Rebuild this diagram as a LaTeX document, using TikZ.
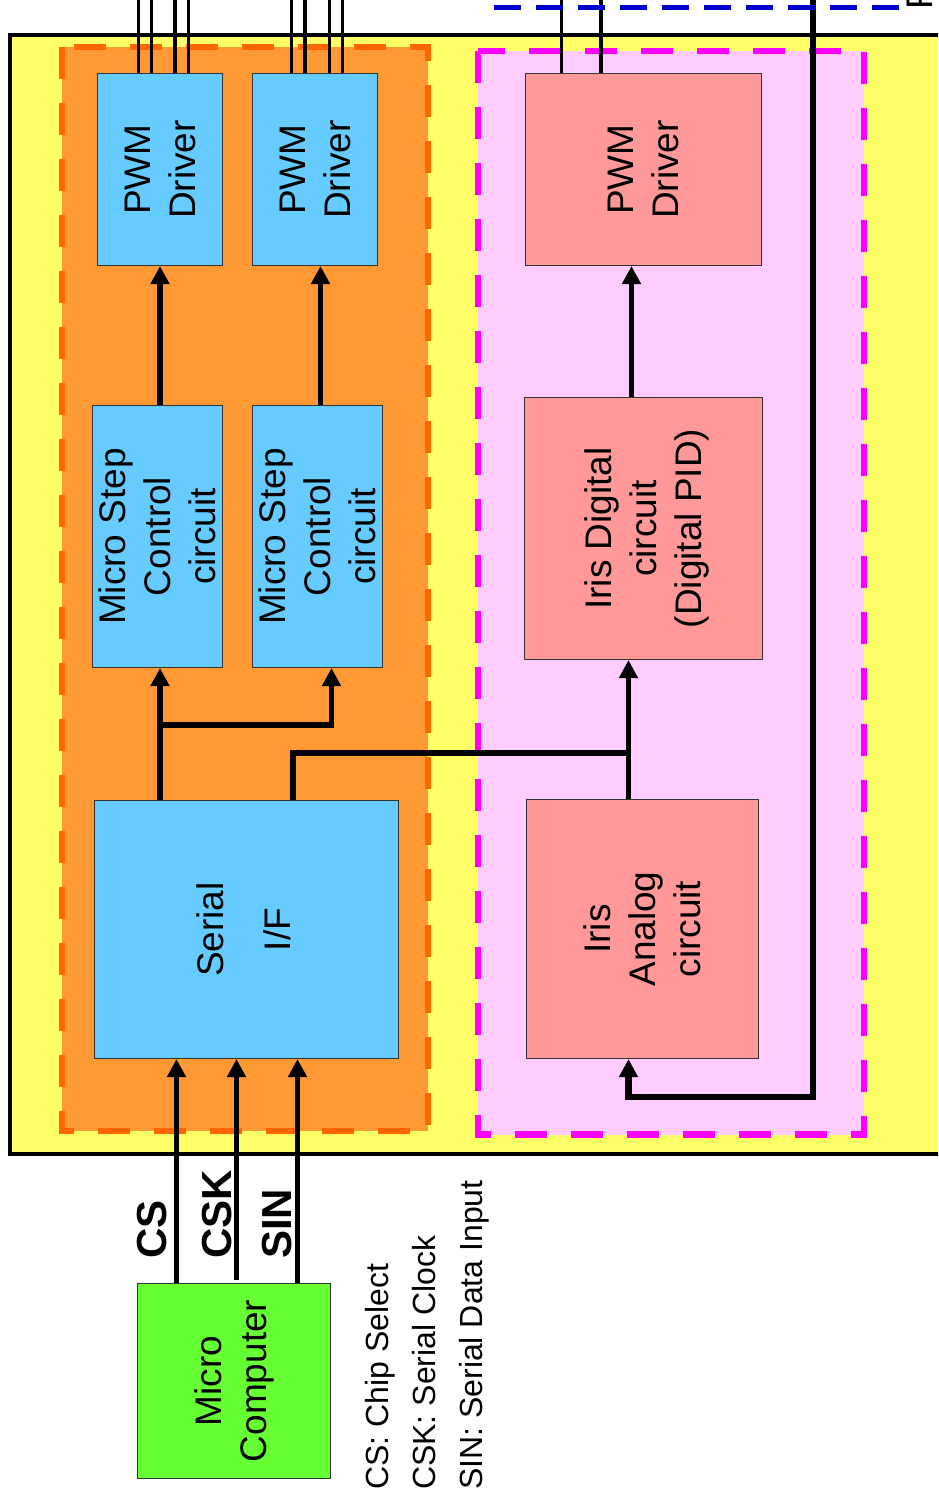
\documentclass[tikz,border=0pt]{standalone}
\usepackage{fontspec}
\setmainfont{Liberation Sans}
\usetikzlibrary{arrows.meta}
\definecolor{yel}{HTML}{FFFF66}
\definecolor{orfill}{HTML}{FF9933}
\definecolor{ordash}{HTML}{FF6600}
\definecolor{pkfill}{HTML}{FFCCFF}
\definecolor{pkdash}{HTML}{FF00FF}
\definecolor{bluebox}{HTML}{66CCFF}
\definecolor{salmon}{HTML}{FF9999}
\definecolor{greenbox}{HTML}{66FF33}
\definecolor{bluedash}{HTML}{0000CC}
\definecolor{edge}{HTML}{333333}
\begin{document}
\begin{tikzpicture}[x=1pt,y=-1pt,
  blk/.style={draw=edge, line width=1pt, anchor=north west, inner sep=0pt},
  blue blk/.style={blk, fill=bluebox},
  red blk/.style={blk, fill=salmon},
  btext/.style={rotate=90, align=center, inner sep=0pt, font=\fontsize{37}{45}\selectfont},
  arr/.style={line width=5.3pt, -{Triangle[width=18pt,length=18pt]}},
  conn/.style={line width=5.3pt},
  wire/.style={line width=3.5pt},
  fb/.style={line width=6.3pt},
  sig/.style={rotate=90, anchor=base west, inner sep=0pt, font=\fontsize{42}{50}\selectfont\bfseries},
  legend/.style={rotate=90, anchor=base west, inner sep=0pt, font=\fontsize{32}{46}\selectfont}
]
\useasboundingbox (0,0) rectangle (938,1498);
\clip (0,0) rectangle (938,1498);
\fill[white] (0,0) rectangle (938,1498);

% outer chip box
\draw[line width=4.5pt, fill=yel] (10,35) rectangle (970,1154);
% dashed groups
\draw[line width=6.5pt, draw=ordash, fill=orfill, dash pattern=on 32pt off 24pt] (62,47) rectangle (428,1131);
\draw[line width=6.5pt, draw=pkdash, fill=pkfill, dash pattern=on 32pt off 24pt] (478,51) rectangle (864,1134.5);

% blocks
\node[blue blk, minimum width=125pt, minimum height=192pt] (pwmA) at (97,73) {};
\node[blue blk, minimum width=125pt, minimum height=192pt] (pwmB) at (252,73) {};
\node[blue blk, minimum width=130pt, minimum height=262pt] (msA) at (92,405) {};
\node[blue blk, minimum width=130pt, minimum height=262pt] (msB) at (252,405) {};
\node[blue blk, minimum width=304pt, minimum height=258pt] (serial) at (94,800) {};
\node[red blk, minimum width=236pt, minimum height=192pt] (pwmC) at (525,73) {};
\node[red blk, minimum width=238pt, minimum height=262pt] (irisD) at (524,397) {};
\node[red blk, minimum width=232pt, minimum height=259pt] (irisA) at (526,799) {};
\node[blk, fill=greenbox, minimum width=193pt, minimum height=195pt] (mc) at (137,1283) {};

% helper coordinates
\coordinate (top) at (0,0);
\coordinate (bry) at (0,725);
\coordinate (jy) at (0,753);
\coordinate (fby) at (0,1097);
\coordinate (fbtop) at (813,0);
\coordinate (s1) at ([xshift=66pt]serial.north west);
\coordinate (s2) at ([xshift=199pt]serial.north west);
\coordinate (ia) at ([xshift=-14pt]irisA.north);

% connectors
\draw[arr] (msA.north -| pwmA.south) -- (pwmA.south);
\draw[arr] ([xshift=3pt]msB.north) -- ([xshift=3pt]msB.north |- pwmB.south);
\draw[arr] ([xshift=-12pt]irisD.north) -- ([xshift=-12pt]irisD.north |- pwmC.south);
\draw[arr] (s1) -- (s1 |- msA.south);
\draw[arr] (s1 |- bry) -| ([xshift=14pt]msB.south);
\draw[conn] (s2) -- (s2 |- jy) -- (ia |- jy);
\draw[arr] (ia) -- (ia |- irisD.south);
\draw[fb, -{Triangle[width=18pt,length=18pt]}] (fbtop) -- (fbtop |- fby) -| ([xshift=-14pt]irisA.south);

\draw[arr] ([xshift=-57.5pt]mc.north) -- ([xshift=-57.5pt]mc.north |- serial.south);
\draw[arr] ([xshift=2.5pt,yshift=3pt]mc.north) -- ([xshift=2.5pt]mc.north |- serial.south);
\draw[arr] ([xshift=63.5pt]mc.north) -- ([xshift=63.5pt]mc.north |- serial.south);

% wires leaving at the top
\foreach \dx in {41.3,54.7,78,91.3}
  \draw[wire] ([xshift=\dx pt]pwmA.north west) -- ([xshift=\dx pt]pwmA.north west |- top);
\foreach \dx in {39.7,53,77.3,90.3}
  \draw[wire] ([xshift=\dx pt]pwmB.north west) -- ([xshift=\dx pt]pwmB.north west |- top);
\foreach \dx in {36.7,76}
  \draw[wire] ([xshift=\dx pt]pwmC.north west) -- ([xshift=\dx pt]pwmC.north west |- top);

% blue dashed line at the top
\coordinate (bd1) at (494,8);
\coordinate (bd2) at (896,8);
\coordinate (bd3) at (896,0);
\draw[bluedash, line width=5pt, dash pattern=on 27pt off 15pt] (bd1) -- (bd2) -- (bd3);
\node[rotate=90, anchor=base west, inner sep=0pt, font=\fontsize{37}{45}\selectfont] (ftext) at (932,10) {F};

% block texts
\node[btext] (tpwmA) at (pwmA.center) {PWM\\Driver};
\node[btext] (tpwmB) at (pwmB.center) {PWM\\Driver};
\node[btext] (tmsA) at (msA.center) {Micro Step\\Control\\circuit};
\node[btext] (tmsB) at (msB.center) {Micro Step\\Control\\circuit};
\node[btext] (tserial) at ([xshift=-3pt]serial.center) {Serial\\[22pt]I/F};
\node[btext] (tpwmC) at (pwmC.center) {PWM\\Driver};
\node[btext] (tirisD) at ([xshift=3pt]irisD.center) {Iris Digital\\circuit\\(Digital PID)};
\node[btext] (tirisA) at (irisA.center) {Iris\\Analog\\circuit};
\node[btext] (tmc) at (mc.center) {Micro\\Computer};

% signal labels
\node[sig] (lcs) at (166,1259) {CS};
\node[sig] (lcsk) at (231,1259) {CSK};
\node[sig] (lsin) at (291,1259) {SIN};

% legend
\node[legend] (lg1) at (388,1490) {CS: Chip Select};
\node[legend] (lg2) at (435,1490) {CSK: Serial Clock};
\node[legend] (lg3) at (482,1490) {SIN: Serial Data Input};
\end{tikzpicture}
\end{document}
